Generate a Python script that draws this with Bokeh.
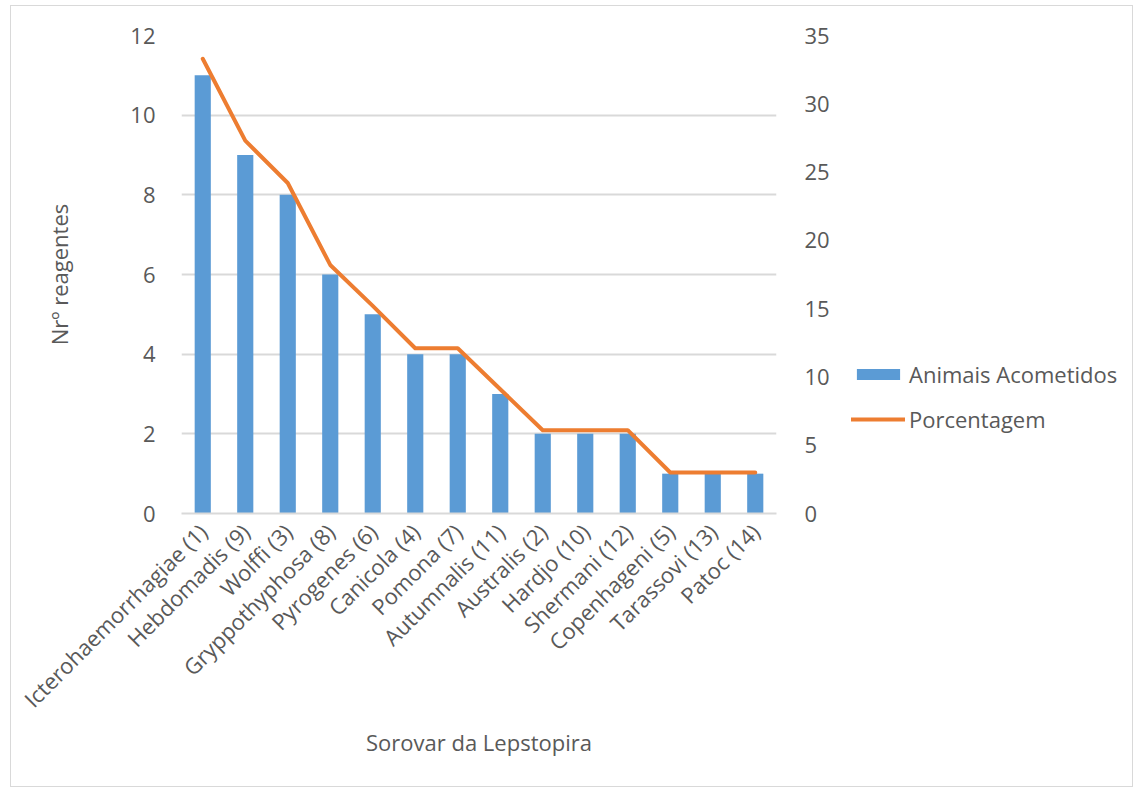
from bokeh.plotting import figure
from bokeh.layouts import row
from bokeh.models import (ColumnDataSource, FactorRange, Range1d, LinearAxis,
                          SingleIntervalTicker, Legend, LegendItem)
from bokeh.embed import file_html
from bokeh.resources import INLINE
import math

categories = ["Icterohaemorrhagiae (1)", "Hebdomadis (9)", "Wolffi (3)",
              "Gryppothyphosa (8)", "Pyrogenes (6)", "Canicola (4)", "Pomona (7)",
              "Autumnalis (11)", "Australis (2)", "Hardjo (10)", "Shermani (12)",
              "Copenhageni (5)", "Tarassovi (13)", "Patoc (14)"]
animais = [11, 9, 8, 6, 5, 4, 4, 3, 2, 2, 2, 1, 1, 1]
porcentagem = [33.3, 27.3, 24.2, 18.2, 15.2, 12.1, 12.1, 9.1, 6.1, 6.1, 6.1, 3.0, 3.0, 3.0]
legend_labels = ["Animais Acometidos", "Porcentagem"]

FONT = "Open Sans"
FS = "22px"
TXT = "#595959"
GRID = "#D9D9D9"
BLUE = "#5B9BD5"
ORANGE = "#ED7D31"

src = ColumnDataSource(dict(cat=categories, n=animais, pct=porcentagem))

p = figure(x_range=FactorRange(*categories, range_padding=0),
           y_range=Range1d(0, 12),
           frame_width=595, frame_height=478,
           output_backend="svg", toolbar_location=None,
           min_border_left=170, min_border_right=66,
           min_border_top=29, min_border_bottom=273)
p.outline_line_color = None
p.background_fill_color = "white"
p.border_fill_color = "white"

p.extra_y_ranges = {"pct": Range1d(0, 35)}

bars = p.vbar(x="cat", top="n", width=0.38, source=src,
              fill_color=BLUE, line_color=None)
line = p.line(x="cat", y="pct", source=src, y_range_name="pct",
              line_color=ORANGE, line_width=4, line_join="round", line_cap="round")

# left axis
ya = p.yaxis[0]
ya.ticker = SingleIntervalTicker(interval=2)
ya.axis_label = "Nrº reagentes"
ya.axis_line_color = None
ya.major_tick_line_color = None
ya.minor_tick_line_color = None
ya.major_label_standoff = 20
ya.major_label_text_font = FONT
ya.major_label_text_font_size = FS
ya.major_label_text_color = TXT
ya.axis_label_text_font = FONT
ya.axis_label_text_font_size = FS
ya.axis_label_text_font_style = "normal"
ya.axis_label_text_color = TXT
ya.axis_label_standoff = 53

# right axis
ra = LinearAxis(y_range_name="pct", ticker=SingleIntervalTicker(interval=5))
ra.axis_line_color = None
ra.major_tick_line_color = None
ra.minor_tick_line_color = None
ra.major_label_standoff = 22
ra.major_label_text_font = FONT
ra.major_label_text_font_size = FS
ra.major_label_text_color = TXT
p.add_layout(ra, "right")

# x axis
xa = p.xaxis[0]
xa.axis_label = "Sorovar da Lepstopira"
xa.axis_line_color = GRID
xa.axis_line_width = 2
xa.major_tick_line_color = None
xa.minor_tick_line_color = None
xa.major_label_orientation = math.pi / 4
xa.major_label_standoff = 8
xa.major_label_text_font = FONT
xa.major_label_text_font_size = FS
xa.major_label_text_color = TXT
xa.axis_label_text_font = FONT
xa.axis_label_text_font_size = FS
xa.axis_label_text_font_style = "normal"
xa.axis_label_text_color = TXT
xa.axis_label_standoff = 0

p.xgrid.grid_line_color = None
p.ygrid.grid_line_color = GRID
p.ygrid.grid_line_width = 2

# legend panel: a second figure holding hidden copies of the series for the legend
p2 = figure(width=290, height=780,
            x_range=FactorRange(*categories, range_padding=0),
            y_range=Range1d(0, 35),
            output_backend="svg", toolbar_location=None,
            x_axis_location=None, y_axis_location=None,
            min_border=0)
p2.outline_line_color = None
p2.xgrid.grid_line_color = None
p2.ygrid.grid_line_color = None
p2.background_fill_color = "white"
p2.border_fill_color = "white"
lb = p2.vbar(x="cat", top="n", width=0.38, source=src, fill_color=BLUE, line_color=None)
ll = p2.line(x="cat", y="pct", source=src, line_color=ORANGE, line_width=4, line_cap="round")
lb.visible = False
ll.visible = False

legend = Legend(items=[LegendItem(label=legend_labels[0], renderers=[lb]),
                       LegendItem(label=legend_labels[1], renderers=[ll])],
                location=(9, 79), orientation="vertical",
                glyph_width=54, glyph_height=14, label_height=26,
                spacing=15, padding=0, margin=0,
                label_standoff=4, click_policy="none",
                border_line_color=None, background_fill_alpha=0,
                label_text_font=FONT, label_text_font_size=FS,
                label_text_color=TXT)
p2.add_layout(legend, "center")

layout = row(p, p2)
layout.margin = (5, 0, 0, 10)
layout.styles = {"border": "1px solid #D9D9D9"}

open("out.html", "w").write(file_html(layout, INLINE))
